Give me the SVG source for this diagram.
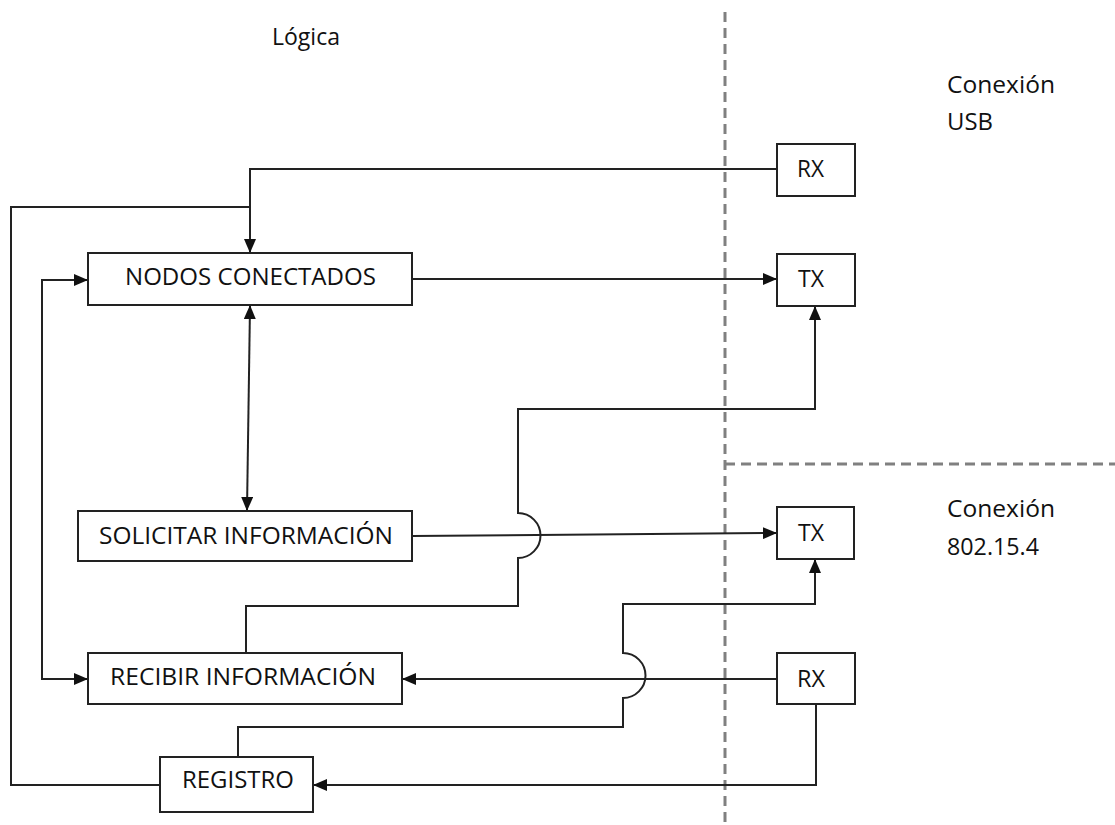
<svg xmlns="http://www.w3.org/2000/svg" width="1115" height="825" viewBox="0 0 1115 825">
  <defs>
    <marker id="arrow" markerUnits="userSpaceOnUse" markerWidth="14" markerHeight="12" refX="13" refY="6" orient="auto-start-reverse">
      <path d="M0,0 L14,6 L0,12 Z" fill="#111"/>
    </marker>
    <style>
      .box { fill: #fff; stroke: #222; stroke-width: 2; }
      .wire { fill: none; stroke: #222; stroke-width: 2; }
      .divider { fill: none; stroke: #808080; stroke-width: 3; stroke-dasharray: 10 6; }
      text { font-family: "Open Sans", "Liberation Sans", sans-serif; font-size: 23px; fill: #111; }
    </style>
  </defs>
  <rect width="1115" height="825" fill="#fff"/>

  <!-- section dividers -->
  <g id="dividers">
    <path class="divider" d="M725,12 V825"/>
    <path class="divider" d="M725,464 H1115"/>
  </g>

  <!-- section titles -->
  <g id="titles">
    <text x="272" y="45" textLength="68" lengthAdjust="spacingAndGlyphs">Lógica</text>
    <text x="947" y="93" textLength="108" lengthAdjust="spacingAndGlyphs">Conexión</text>
    <text x="947" y="130" textLength="46" lengthAdjust="spacingAndGlyphs">USB</text>
    <text x="947" y="517" textLength="108" lengthAdjust="spacingAndGlyphs">Conexión</text>
    <text x="947" y="555" textLength="92" lengthAdjust="spacingAndGlyphs">802.15.4</text>
  </g>

  <!-- connectors -->
  <g id="connectors">
    <path class="wire" d="M777,169 H250 V252" marker-end="url(#arrow)"/>
    <path class="wire" d="M250,207 H11 V785 H160"/>
    <path class="wire" d="M412,279 H776" marker-end="url(#arrow)"/>
    <path class="wire" d="M250,306 L247,510" marker-start="url(#arrow)" marker-end="url(#arrow)"/>
    <path class="wire" d="M87,280 H42 V679 H87" marker-start="url(#arrow)" marker-end="url(#arrow)"/>
    <path class="wire" d="M412,536 L776,533" marker-end="url(#arrow)"/>
    <path class="wire" d="M246,653 V606 H518 V558 A22.5,22.5 0 0 0 518,513 V409 H815 V307" marker-end="url(#arrow)"/>
    <path class="wire" d="M238,757 V727 H623 V698 A22.5,22.5 0 0 0 623,653 V604 H815 V560" marker-end="url(#arrow)"/>
    <path class="wire" d="M777,679 H403" marker-end="url(#arrow)"/>
    <path class="wire" d="M816,704 V785 H314" marker-end="url(#arrow)"/>
  </g>

  <!-- logic blocks -->
  <g id="nodos-conectados">
    <rect class="box" x="88" y="253" width="324" height="52"/>
    <text x="125" y="285" textLength="251" lengthAdjust="spacingAndGlyphs">NODOS CONECTADOS</text>
  </g>
  <g id="solicitar-informacion">
    <rect class="box" x="78" y="511" width="334" height="50"/>
    <text x="99" y="544" textLength="294" lengthAdjust="spacingAndGlyphs">SOLICITAR INFORMACIÓN</text>
  </g>
  <g id="recibir-informacion">
    <rect class="box" x="88" y="653" width="314" height="51"/>
    <text x="110" y="685" textLength="266" lengthAdjust="spacingAndGlyphs">RECIBIR INFORMACIÓN</text>
  </g>
  <g id="registro">
    <rect class="box" x="160" y="757" width="153" height="55"/>
    <text x="182" y="788" textLength="112" lengthAdjust="spacingAndGlyphs">REGISTRO</text>
  </g>

  <!-- USB port -->
  <g id="usb-rx">
    <rect class="box" x="777" y="144" width="78" height="52"/>
    <text x="797" y="177" textLength="27" lengthAdjust="spacingAndGlyphs">RX</text>
  </g>
  <g id="usb-tx">
    <rect class="box" x="777" y="254" width="78" height="52"/>
    <text x="798" y="287" textLength="26" lengthAdjust="spacingAndGlyphs">TX</text>
  </g>

  <!-- 802.15.4 radio -->
  <g id="radio-tx">
    <rect class="box" x="777" y="507" width="77" height="52"/>
    <text x="798" y="541" textLength="26" lengthAdjust="spacingAndGlyphs">TX</text>
  </g>
  <g id="radio-rx">
    <rect class="box" x="777" y="653" width="78" height="51"/>
    <text x="797" y="687" textLength="28" lengthAdjust="spacingAndGlyphs">RX</text>
  </g>
</svg>
